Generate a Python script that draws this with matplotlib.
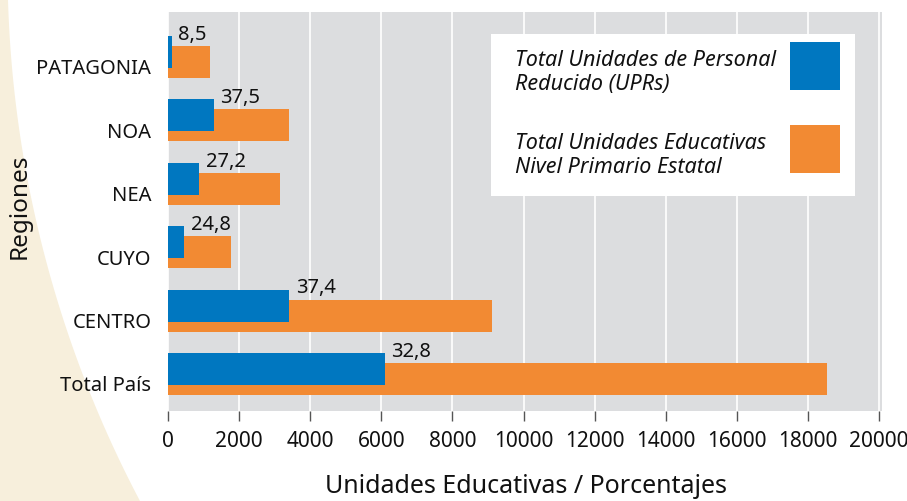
import numpy as np
import matplotlib
matplotlib.use("Agg")
import matplotlib.pyplot as plt
from matplotlib.patches import Rectangle, Polygon

plt.rcParams['font.family'] = ['Noto Sans', 'DejaVu Sans']

# data (bottom to top)
regiones = ['Total País', 'CENTRO', 'CUYO', 'NEA', 'NOA', 'PATAGONIA']
total_ue = [18540, 9100, 1770, 3150, 3400, 1180]
total_upr = [6090, 3400, 440, 860, 1280, 100]
porcentaje = ['32,8', '37,4', '24,8', '27,2', '37,5', '8,5']

blue = '#0077c0'
orange = '#f28a33'
gris = '#dcdddf'
beige = '#f7efdc'

W, H = 907, 502
fig = plt.figure(figsize=(W / 100, H / 100), dpi=100)


def fx(x, y):
    return x / W, 1 - y / H


# beige curved band on the left
cx, cy, R = 1154, -33, 1146.5
ys = np.linspace(0, H, 60)
xs = cx - np.sqrt(R ** 2 - (ys - cy) ** 2)
pts = [fx(x, y) for x, y in zip(xs, ys)] + [fx(0, H), fx(0, 0)]
fig.patches.append(Polygon(pts, closed=True, transform=fig.transFigure,
                           facecolor=beige, edgecolor='none', zorder=-5))

ax = fig.add_axes([168 / W, 1 - 412 / H, (882 - 168) / W, (412 - 13) / H])
ax.set_facecolor(gris)

y = np.arange(len(regiones))
h = 0.505
off = 0.158
ax.barh(y, total_ue, height=h, color=orange, zorder=2)
ax.barh(y + off, total_upr, height=h, color=blue, zorder=3)

for yi, v, lab in zip(y, total_upr, porcentaje):
    ax.annotate(lab, (v, yi + off + h / 2), xytext=(5, -2),
                textcoords='offset points', ha='left', va='baseline',
                fontsize=14.5, color='#111111', zorder=4)

ax.set_xlim(0, 20084)
ax.set_ylim(-0.505, 5.79)
ax.set_xticks(np.arange(0, 20001, 2000))
ax.set_yticks(y - 0.06)
ax.set_yticklabels(regiones)
ax.grid(axis='x', color='white', linewidth=1.2, zorder=1)
ax.set_axisbelow(True)
for s in ax.spines.values():
    s.set_visible(False)
ax.tick_params(axis='x', direction='out', length=7, width=1, color='#555555',
               labelsize=15, pad=7, labelcolor='#111111')
ax.tick_params(axis='y', length=0, labelsize=14.5, pad=12, labelcolor='#111111')

fig.text(526 / W, 1 - 493 / H, 'Unidades Educativas / Porcentajes',
         ha='center', va='baseline', fontsize=18, color='#111111')
fig.text(20 / W, 1 - 206 / H, 'Regiones', rotation=90, ha='center',
         va='center', fontsize=17.5, color='#111111')

# legend box
x0, y0 = fx(491, 197)
x1, y1 = fx(855, 35)
fig.patches.append(Rectangle((x0, y0), x1 - x0, y1 - y0, transform=fig.transFigure,
                             facecolor='white', edgecolor='none', zorder=5))
for (t, c, top, base) in [('Total Unidades de Personal\nReducido (UPRs)', blue, 43, 90),
                          ('Total Unidades Educativas\nNivel Primario Estatal', orange, 126, 173)]:
    a, b = fx(790, top + 48)
    fig.patches.append(Rectangle((a, b), 50 / W, 48 / H, transform=fig.transFigure,
                                 facecolor=c, edgecolor='none', zorder=6))
    tx, ty = fx(515, base)
    fig.text(tx, ty, t, ha='left', va='baseline', fontsize=15.5, style='italic',
             color='#111111', linespacing=1.2, zorder=7)

fig.savefig('out.png', dpi=100)
